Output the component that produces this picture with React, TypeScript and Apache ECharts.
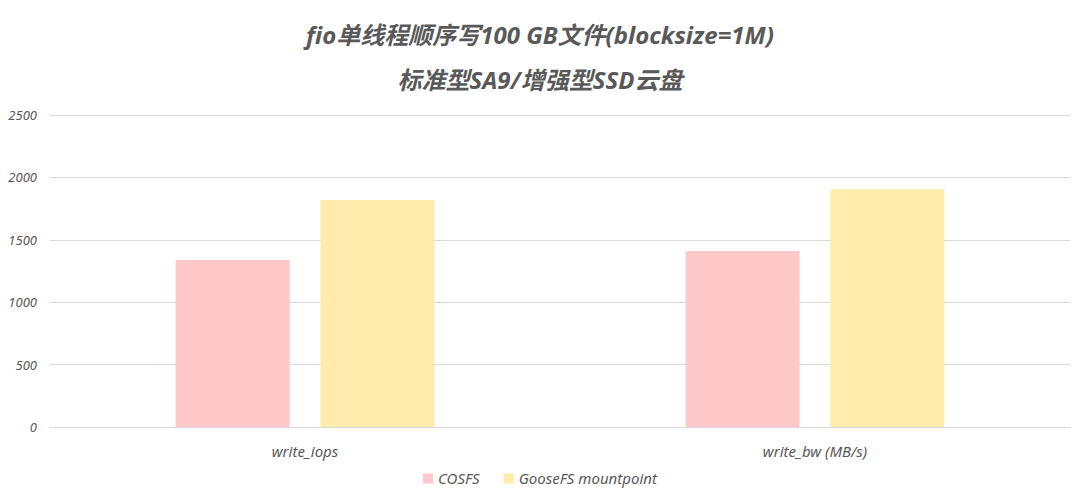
import React, { useEffect, useRef } from "react";
import * as echarts from "echarts";

const categories = ["write_iops", "write_bw (MB/s)"];
const cosfs = [1338, 1410];
const goosefs = [1819, 1905];
const seriesNames = ["COSFS", "GooseFS mountpoint"];
const titleLine1 = "fio单线程顺序写100 GB文件(blocksize=1M)";
const titleLine2 = "标准型SA9/增强型SSD云盘";

const FONT = "'Noto Sans', 'Noto Sans CJK SC', sans-serif";

export default function App() {
  const ref = useRef<HTMLDivElement>(null);
  useEffect(() => {
    if (!ref.current) return;
    const chart = echarts.init(ref.current, null, { renderer: "svg" });
    chart.setOption({
      animation: false,
      backgroundColor: "#ffffff",
      title: [
        {
          text: titleLine1,
          left: "center",
          top: 17,
          textStyle: { fontFamily: FONT, fontSize: 24, fontWeight: "bold", fontStyle: "italic", color: "#595959" },
        },
        {
          text: titleLine2,
          left: "center",
          top: 62,
          textStyle: { fontFamily: FONT, fontSize: 24, fontWeight: "bold", fontStyle: "italic", color: "#595959" },
        },
      ],
      legend: {
        bottom: 7,
        left: "center",
        itemWidth: 10,
        itemHeight: 10,
        itemGap: 24,
        icon: "rect",
        textStyle: { fontFamily: FONT, fontSize: 15, fontStyle: "italic", color: "#595959" },
        data: seriesNames,
      },
      grid: { left: 50, right: 10, top: 115, bottom: 71, containLabel: false },
      xAxis: {
        type: "category",
        data: categories,
        axisLine: { lineStyle: { color: "#d9d9d9" } },
        axisTick: { show: false },
        axisLabel: { fontFamily: FONT, fontSize: 15, fontStyle: "italic", color: "#595959", margin: 16 },
      },
      yAxis: {
        type: "value",
        min: 0,
        max: 2500,
        interval: 500,
        axisLine: { show: false },
        axisTick: { show: false },
        splitLine: { lineStyle: { color: "#d9d9d9" } },
        axisLabel: {
          fontFamily: FONT,
          fontSize: 13,
          fontStyle: "italic",
          color: "#595959",
          margin: 13,
          formatter: (v: number) => String(v),
        },
      },
      series: [
        {
          name: seriesNames[0],
          type: "bar",
          data: cosfs,
          barWidth: "22.35%",
          barGap: "27%",
          itemStyle: { color: "#FFC9C9" },
        },
        {
          name: seriesNames[1],
          type: "bar",
          data: goosefs,
          barWidth: "22.35%",
          barGap: "27%",
          itemStyle: { color: "#FFEBAB" },
        },
      ],
    });
    return () => chart.dispose();
  }, []);
  return <div ref={ref} style={{ width: 1080, height: 498, position: "absolute", left: 0, top: 0 }} />;
}
